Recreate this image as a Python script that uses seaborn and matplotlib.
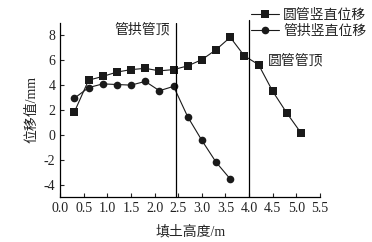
import pandas as pd
import numpy as np
import matplotlib.pyplot as plt
import seaborn as sns

# ---------- Data ----------
fill_height = [0.3, 0.6, 0.9, 1.2, 1.5, 1.8, 2.1, 2.4, 2.7, 3.0, 3.3, 3.6, 3.9, 4.2, 4.5, 4.8, 5.1]
pipe_disp = [1.85, 4.4, 4.7, 5.05, 5.25, 5.35, 5.15, 5.25, 5.55, 6.05, 6.85, 7.85, 6.35, 5.65, 3.5, 1.75, 0.15]

arch_height = [0.3, 0.6, 0.9, 1.2, 1.5, 1.8, 2.1, 2.4, 2.7, 3.0, 3.3, 3.6]
arch_disp = [2.95, 3.8, 4.1, 4.05, 4.0, 4.3, 3.55, 3.9, 1.45, -0.45, -2.2, -3.55]

series_names = ['圆管竖直位移', '管拱竖直位移']
x_ticks = [0.0, 0.5, 1.0, 1.5, 2.0, 2.5, 3.0, 3.5, 4.0, 4.5, 5.0, 5.5]
y_ticks = [-4, -2, 0, 2, 4, 6, 8]

df_pipe = pd.DataFrame({'h': fill_height, 'd': pipe_disp})
df_arch = pd.DataFrame({'h': arch_height, 'd': arch_disp})

# ---------- Style ----------
sns.set_theme(style='ticks')
plt.rcParams['font.family'] = ['Liberation Serif', 'Noto Sans CJK SC']
plt.rcParams['axes.unicode_minus'] = False
plt.rcParams['font.size'] = 10

fig = plt.figure(figsize=(3.72, 2.42), dpi=100)
fig.patch.set_facecolor('white')
ax = fig.add_axes([0.162, 0.186, 0.698, 0.719])

sns.lineplot(data=df_pipe, x='h', y='d', ax=ax, color='#1a1a1a', lw=0.8,
             marker='s', markersize=5.5, markeredgewidth=0, label=series_names[0])
sns.lineplot(data=df_arch, x='h', y='d', ax=ax, color='#1a1a1a', lw=0.8,
             marker='o', markersize=5.5, markeredgewidth=0, label=series_names[1])

# reference lines
ax.axvline(2.45, color='black', lw=0.9)
ax.axvline(4.0, color='black', lw=0.9, ymax=1.02, clip_on=False)
ax.text(2.33, 8.45, '管拱管顶', ha='right', va='center', fontsize=10, color='#222')
ax.text(4.39, 5.9, '圆管管顶', ha='left', va='center', fontsize=10, color='#222')

ax.set_xlim(0, 5.5)
ax.set_ylim(-5, 9)
ax.set_xticks(x_ticks)
ax.set_xticklabels([f'{v:.1f}' for v in x_ticks])
ax.set_yticks(y_ticks)
ax.tick_params(direction='in', length=3, width=0.8, labelsize=10, colors='#222')
for s in ['top', 'right']:
    ax.spines[s].set_visible(False)
for s in ['left', 'bottom']:
    ax.spines[s].set_linewidth(0.9)
    ax.spines[s].set_color('black')

ax.set_xlabel('填土高度/m', fontsize=10, labelpad=7)
ax.set_ylabel('位移值/mm', fontsize=10, labelpad=4)

leg = ax.legend(loc='upper left', bbox_to_anchor=(251 / 372, 1 - 9 / 242),
                bbox_transform=fig.transFigure, frameon=False, borderpad=0,
                borderaxespad=0, handlelength=2, handletextpad=0.3,
                labelspacing=0.2, fontsize=10)

plt.savefig('out.png', dpi=100, facecolor='white')
plt.close()
